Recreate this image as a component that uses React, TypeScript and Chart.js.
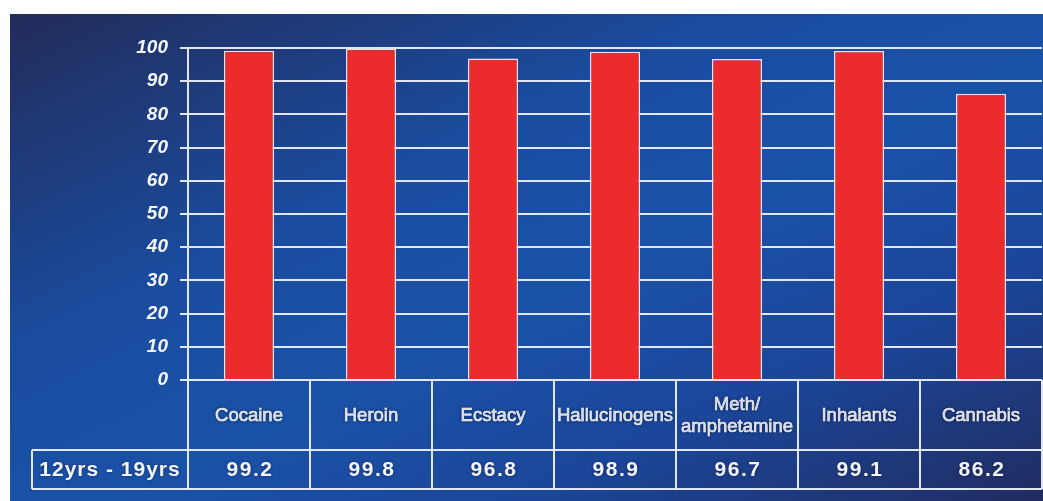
import { useEffect, useRef } from "react";
import { Chart, registerables } from "chart.js";

Chart.register(...registerables);

const categories = ["Cocaine", "Heroin", "Ecstacy", "Hallucinogens", "Meth/\namphetamine", "Inhalants", "Cannabis"];
const seriesLabel = "12yrs - 19yrs";
const values = [99.2, 99.8, 96.8, 98.9, 96.7, 99.1, 86.2];
const yMin = 0;
const yMax = 100;
const yStep = 10;

const LINE = "rgba(236,240,248,0.95)";
const FONT = "'Liberation Sans', Arial, sans-serif";

const bgPlugin = {
  id: "bg",
  beforeDraw(chart: any) {
    const { ctx, width, height } = chart;
    ctx.save();
    ctx.fillStyle = "#ffffff";
    ctx.fillRect(0, 0, width, height);
    const x0 = 10, y0 = 14;
    const w = width - x0, h = height - y0;
    const cx = x0 + w / 2, cy = y0 + h / 2;
    const len = Math.hypot(w, h);
    const dx = h / len, dy = w / len;
    const k = (w / 2) * dx + (h / 2) * dy;
    const g = ctx.createLinearGradient(cx - k * dx, cy - k * dy, cx + k * dx, cy + k * dy);
    g.addColorStop(0, "#222c5a");
    g.addColorStop(0.35, "#1a4c9f");
    g.addColorStop(0.55, "#1a52a8");
    g.addColorStop(0.75, "#1b469a");
    g.addColorStop(1, "#212c60");
    ctx.fillStyle = g;
    ctx.fillRect(x0, y0, w, h);
    ctx.restore();
  },
};

const tablePlugin = {
  id: "table",
  afterDatasetsDraw(chart: any) {
    const { ctx, chartArea } = chart;
    const xs = chart.scales.x;
    const n = values.length;
    const colW = (chartArea.right - chartArea.left) / n;
    const top = chartArea.bottom;
    const mid = top + 70;
    const bot = top + 109;
    const labelLeft = 32;
    ctx.save();
    ctx.strokeStyle = LINE;
    ctx.lineWidth = 2;
    const line = (a: number, b: number, c: number, d: number) => {
      ctx.beginPath();
      ctx.moveTo(a, b);
      ctx.lineTo(c, d);
      ctx.stroke();
    };
    line(labelLeft, mid, chartArea.right, mid);
    line(labelLeft, bot, chartArea.right, bot);
    line(labelLeft, mid, labelLeft, bot);
    for (let i = 0; i <= n; i++) {
      const xb = i < n ? xs.getPixelForValue(i) - colW / 2 : xs.getPixelForValue(n - 1) + colW / 2;
      line(xb, top, xb, bot);
    }
    ctx.fillStyle = "#f4f6fb";
    ctx.strokeStyle = "#f4f6fb";
    ctx.textAlign = "center";
    ctx.textBaseline = "middle";
    ctx.shadowColor = "rgba(0,0,20,0.45)";
    ctx.shadowBlur = 3;
    for (let i = 0; i < n; i++) {
      const cx = xs.getPixelForValue(i);
      const lines = categories[i].split("\n");
      ctx.font = `18.5px ${FONT}`;
      (ctx as any).letterSpacing = "0px";
      ctx.lineWidth = 0.6;
      const lh = 22;
      const startY = (top + mid) / 2 - ((lines.length - 1) * lh) / 2 + 1;
      lines.forEach((t, j) => {
        ctx.fillText(t, cx, startY + j * lh);
        ctx.strokeText(t, cx, startY + j * lh);
      });
      ctx.font = `bold 21px ${FONT}`;
      (ctx as any).letterSpacing = "1.5px";
      ctx.fillText(values[i].toFixed(1), cx + 1, (mid + bot) / 2 + 1);
    }
    ctx.font = `bold 21px ${FONT}`;
    (ctx as any).letterSpacing = "1px";
    ctx.textAlign = "center";
    ctx.fillText(seriesLabel, (labelLeft + chartArea.left) / 2, (mid + bot) / 2 + 1);
    ctx.restore();
  },
};

export default function App() {
  const ref = useRef<HTMLCanvasElement>(null);
  useEffect(() => {
    if (!ref.current) return;
    const chart = new Chart(ref.current, {
      type: "bar",
      data: {
        labels: categories.map((c) => c.replace("\n", " ")),
        datasets: [
          {
            label: seriesLabel,
            data: values,
            backgroundColor: "#ec2c2c",
            borderColor: "#f6dede",
            borderWidth: 1.5,
            barPercentage: 0.41,
            categoryPercentage: 1.0,
          },
        ],
      },
      options: {
        responsive: false,
        animation: false,
        layout: { padding: { top: 48, bottom: 121, right: 1, left: 0 } },
        plugins: { legend: { display: false }, tooltip: { enabled: false } },
        scales: {
          x: { display: false, offset: true },
          y: {
            min: yMin,
            max: yMax,
            ticks: {
              stepSize: yStep,
              color: "#f4f6fb",
              padding: 12,
              font: { family: FONT, size: 19, weight: "bold", style: "italic" },
            },
            grid: { color: LINE, lineWidth: 2, tickLength: 8 },
            border: { color: LINE, width: 2 },
            afterFit: (s: any) => {
              s.width = 188;
            },
          },
        },
      },
      plugins: [bgPlugin, tablePlugin],
    });
    return () => chart.destroy();
  }, []);
  return (
    <div style={{ position: "fixed", left: 0, top: 0, width: 1043, height: 501, background: "#fff" }}>
      <canvas ref={ref} width={1043} height={501} style={{ width: 1043, height: 501, display: "block" }} />
    </div>
  );
}
